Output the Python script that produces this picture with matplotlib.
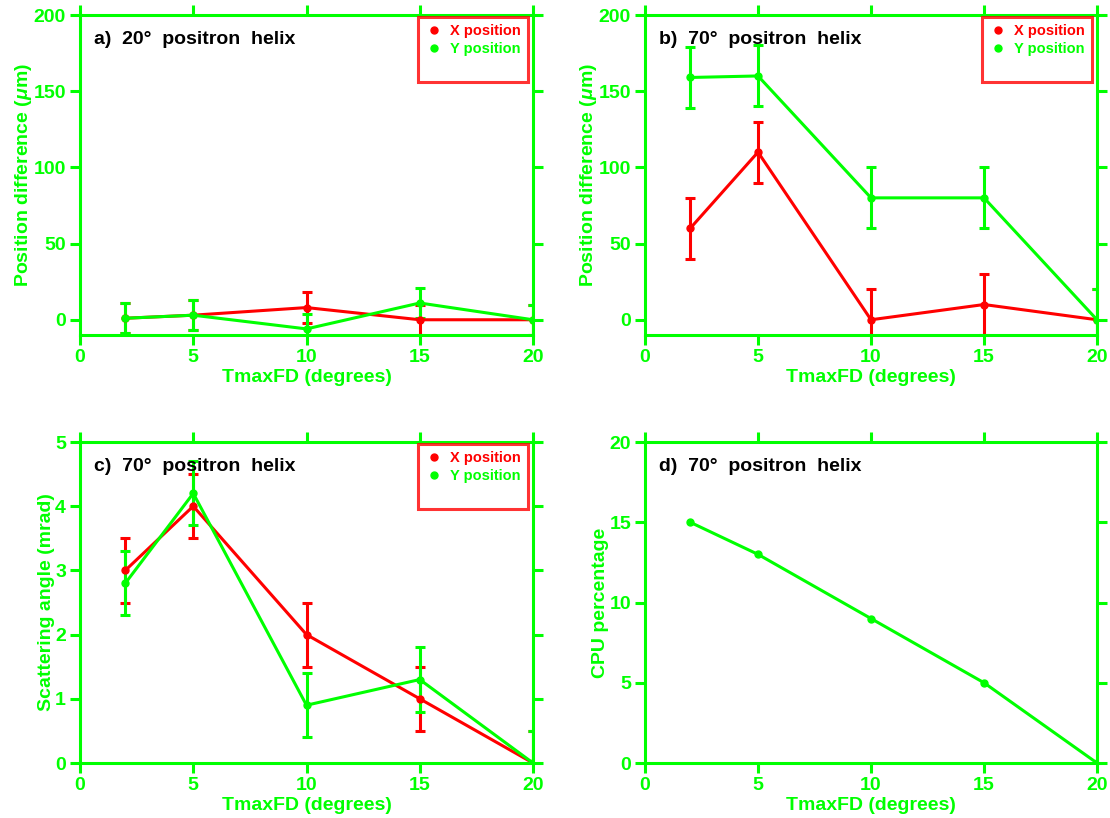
import numpy as np
import matplotlib
matplotlib.use("Agg")
import matplotlib.pyplot as plt
from matplotlib.lines import Line2D

GREEN = "#00ff00"
RED = "#ff0000"

plt.rcParams['font.family'] = ['Liberation Sans', 'DejaVu Sans']
plt.rcParams['font.weight'] = 'bold'
plt.rcParams['axes.labelweight'] = 'bold'
plt.rcParams['mathtext.fontset'] = 'custom'
plt.rcParams['mathtext.it'] = 'Liberation Sans:italic:bold'

tmax = [2, 5, 10, 15, 20]

# a) 20 deg helix, position difference (um)
a_x = [1, 3, 8, 0, 0]
a_x_err = [10, 10, 10, 10, 10]
a_y = [1, 3, -6, 11, 0]
a_y_err = [10, 10, 10, 10, 10]

# b) 70 deg helix, position difference (um)
b_x = [60, 110, 0, 10, 0]
b_x_err = [20, 20, 20, 20, 20]
b_y = [159, 160, 80, 80, 0]
b_y_err = [20, 20, 20, 20, 20]

# c) 70 deg helix, scattering angle (mrad)
c_x = [3.0, 4.0, 2.0, 1.0, 0.0]
c_x_err = [0.5, 0.5, 0.5, 0.5, 0.5]
c_y = [2.8, 4.2, 0.9, 1.3, 0.0]
c_y_err = [0.5, 0.5, 0.5, 0.5, 0.5]

# d) 70 deg helix, CPU usage
d_cpu = [15, 13, 9, 5, 0]

W, H = 1110, 818
fig = plt.figure(figsize=(W / 100, H / 100), dpi=100)


def make_axes(x0, y0, x1, y1):
    ax = fig.add_axes([x0 / W, 1 - y1 / H, (x1 - x0) / W, (y1 - y0) / H])
    for sp in ax.spines.values():
        sp.set_color(GREEN)
        sp.set_linewidth(2.2)
    ax.tick_params(which='both', direction='out', length=7, width=2.2,
                   colors=GREEN, labelsize=14, top=True, right=True,
                   labeltop=False, labelright=False, pad=3)
    ax.set_xlim(0, 20)
    ax.set_xticks([0, 5, 10, 15, 20])
    ax.set_xlabel("TmaxFD (degrees)", color=GREEN, fontsize=14, labelpad=2)
    return ax


def series(ax, y, err, color):
    ax.errorbar(tmax, y, yerr=err, color=color, lw=2.2, elinewidth=2.2,
                capsize=3.5, capthick=2.2, marker='o', ms=5)


def legend(ax):
    handles = [Line2D([], [], ls='none', marker='o', ms=5, color=RED),
               Line2D([], [], ls='none', marker='o', ms=5, color=GREEN),
               Line2D([], [], ls='none')]
    leg = ax.legend(handles, ["X position", "Y position", " "],
                    loc='upper right', bbox_to_anchor=(0.99, 0.995),
                    labelcolor=[RED, GREEN, 'white'], fontsize=10.5,
                    frameon=True, fancybox=False, handletextpad=0.5,
                    labelspacing=0.3, borderpad=0.5, handlelength=1.2,
                    borderaxespad=0)
    fr = leg.get_frame()
    fr.set_edgecolor(RED)
    fr.set_linewidth(2.2)


def title(ax, s):
    ax.text(0.03, 0.925, s, transform=ax.transAxes, color='black',
            fontsize=14, va='center', ha='left')


# a)
ax = make_axes(80, 15, 533, 335)
series(ax, a_x, a_x_err, RED)
series(ax, a_y, a_y_err, GREEN)
ax.set_ylim(-10, 200)
ax.set_yticks([0, 50, 100, 150, 200])
ax.set_ylabel(r"Position difference ($\mu$m)", color=GREEN, fontsize=14,
              labelpad=0)
title(ax, "a)  20°  positron  helix")
legend(ax)

# b)
ax = make_axes(645, 15, 1097, 335)
series(ax, b_x, b_x_err, RED)
series(ax, b_y, b_y_err, GREEN)
ax.set_ylim(-10, 200)
ax.set_yticks([0, 50, 100, 150, 200])
ax.set_ylabel(r"Position difference ($\mu$m)", color=GREEN, fontsize=14,
              labelpad=0)
title(ax, "b)  70°  positron  helix")
legend(ax)

# c)
ax = make_axes(80, 442, 533, 763)
series(ax, c_x, c_x_err, RED)
series(ax, c_y, c_y_err, GREEN)
ax.set_ylim(0, 5)
ax.set_yticks([0, 1, 2, 3, 4, 5])
ax.set_ylabel("Scattering angle (mrad)", color=GREEN, fontsize=14,
              labelpad=0)
title(ax, "c)  70°  positron  helix")
legend(ax)

# d)
ax = make_axes(645, 442, 1097, 763)
ax.plot(tmax, d_cpu, color=GREEN, lw=2.2, marker='o', ms=5)
ax.set_ylim(0, 20)
ax.set_yticks([0, 5, 10, 15, 20])
ax.set_ylabel("CPU percentage", color=GREEN, fontsize=14, labelpad=0)
title(ax, "d)  70°  positron  helix")

fig.savefig("out.png", dpi=100)
